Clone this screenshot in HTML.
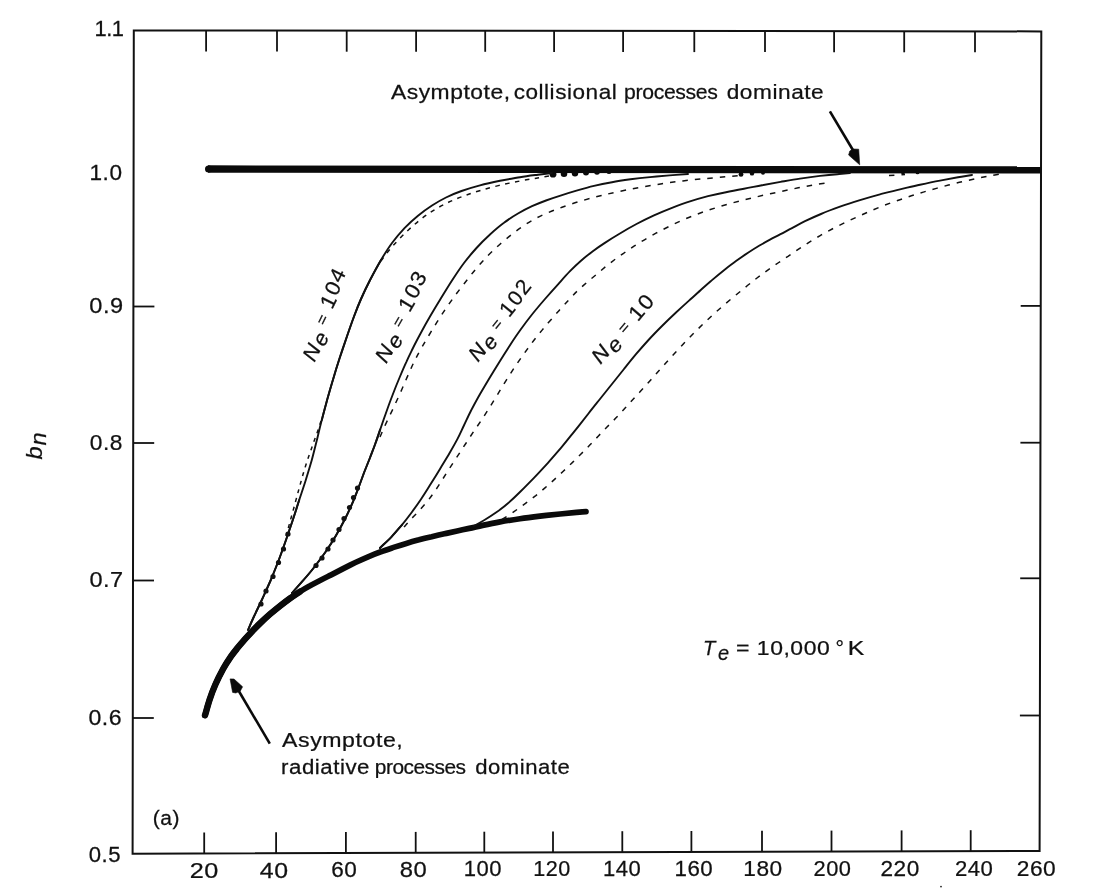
<!DOCTYPE html>
<html><head><meta charset="utf-8"><title>b_n vs n</title>
<style>
html,body{margin:0;padding:0;background:#fff;}
body{width:1101px;height:888px;overflow:hidden;}
svg{display:block;will-change:transform;}
text{font-family:"Liberation Sans",sans-serif;fill:#111;stroke:#111;stroke-width:0.25px;}
.ax{stroke:#111;stroke-width:2;fill:none;stroke-linecap:square;}
.tk{stroke:#111;stroke-width:1.8;fill:none;}
.sol{stroke:#111;stroke-width:1.9;fill:none;stroke-linecap:round;stroke-linejoin:round;}
.dsh{stroke:#111;stroke-width:1.5;fill:none;}
.thk{stroke:#0a0a0a;fill:none;stroke-linecap:round;stroke-linejoin:round;}
</style></head><body>
<svg width="1101" height="888" viewBox="0 0 1101 888">
<rect x="0" y="0" width="1101" height="888" fill="#fff"/>
<g id="frame">
<polygon class="ax" points="133.8,30.5 1041.3,31.4 1039.6,851.0 132.6,853.7"/>
<line class="tk" x1="206.1" y1="30.6" x2="206.1" y2="51.6"/>
<line class="tk" x1="277.0" y1="30.6" x2="277.0" y2="51.6"/>
<line class="tk" x1="346.7" y1="30.7" x2="346.7" y2="51.7"/>
<line class="tk" x1="416.1" y1="30.8" x2="416.1" y2="51.8"/>
<line class="tk" x1="485.2" y1="30.8" x2="485.2" y2="51.8"/>
<line class="tk" x1="554.1" y1="30.9" x2="554.1" y2="51.9"/>
<line class="tk" x1="623.1" y1="31.0" x2="623.1" y2="52.0"/>
<line class="tk" x1="694.3" y1="31.1" x2="694.3" y2="52.1"/>
<line class="tk" x1="765.0" y1="31.1" x2="765.0" y2="52.1"/>
<line class="tk" x1="834.1" y1="31.2" x2="834.1" y2="52.2"/>
<line class="tk" x1="904.2" y1="31.3" x2="904.2" y2="52.3"/>
<line class="tk" x1="975.0" y1="31.3" x2="975.0" y2="52.3"/>
<line class="tk" x1="204.2" y1="853.5" x2="204.2" y2="832.5"/>
<line class="tk" x1="276.1" y1="853.3" x2="276.1" y2="832.3"/>
<line class="tk" x1="345.9" y1="853.1" x2="345.9" y2="832.1"/>
<line class="tk" x1="415.7" y1="852.9" x2="415.7" y2="831.9"/>
<line class="tk" x1="484.3" y1="852.7" x2="484.3" y2="831.7"/>
<line class="tk" x1="553.0" y1="852.4" x2="553.0" y2="831.4"/>
<line class="tk" x1="622.3" y1="852.2" x2="622.3" y2="831.2"/>
<line class="tk" x1="691.4" y1="852.0" x2="691.4" y2="831.0"/>
<line class="tk" x1="762.0" y1="851.8" x2="762.0" y2="830.8"/>
<line class="tk" x1="831.5" y1="851.6" x2="831.5" y2="830.6"/>
<line class="tk" x1="901.6" y1="851.4" x2="901.6" y2="830.4"/>
<line class="tk" x1="970.7" y1="851.2" x2="970.7" y2="830.2"/>
<line class="tk" x1="133.4" y1="306.5" x2="154.4" y2="306.5"/>
<line class="tk" x1="133.2" y1="443.0" x2="154.2" y2="443.0"/>
<line class="tk" x1="133.0" y1="580.5" x2="154.0" y2="580.5"/>
<line class="tk" x1="132.8" y1="718.0" x2="153.8" y2="718.0"/>
<line class="tk" x1="1040.7" y1="305.9" x2="1020.7" y2="305.9"/>
<line class="tk" x1="1040.4" y1="442.7" x2="1020.4" y2="442.7"/>
<line class="tk" x1="1040.2" y1="578.3" x2="1020.2" y2="578.3"/>
<line class="tk" x1="1039.9" y1="715.5" x2="1019.9" y2="715.5"/>
</g>
<g id="labels" letter-spacing="0.5">
<text transform="translate(94.61,36.0) scale(0.9962,1)" font-size="22" letter-spacing="-0.6" xml:space="preserve">1.1</text>
<text transform="translate(89.54,179.5) scale(1.0276,1)" font-size="22" xml:space="preserve">1.0</text>
<text transform="translate(89.23,313.2) scale(1.0724,1)" font-size="22" xml:space="preserve">0.9</text>
<text transform="translate(89.77,449.5) scale(1.0333,1)" font-size="22" xml:space="preserve">0.8</text>
<text transform="translate(89.43,586.6) scale(1.0690,1)" font-size="22" xml:space="preserve">0.7</text>
<text transform="translate(88.45,725.0) scale(1.0500,1)" font-size="22" xml:space="preserve">0.6</text>
<text transform="translate(88.79,861.6) scale(1.0067,1)" font-size="22" xml:space="preserve">0.5</text>
<text transform="translate(189.75,878.0) scale(1.1478,1)" font-size="22" xml:space="preserve">20</text>
<text transform="translate(259.87,878.0) scale(1.1304,1)" font-size="22" xml:space="preserve">40</text>
<text transform="translate(331.27,877.3) scale(1.0261,1)" font-size="22" xml:space="preserve">60</text>
<text transform="translate(399.82,876.8) scale(1.0826,1)" font-size="22" xml:space="preserve">80</text>
<text transform="translate(463.79,876.4) scale(1.0029,1)" font-size="22" xml:space="preserve">100</text>
<text transform="translate(533.24,876.4) scale(0.9800,1)" font-size="22" xml:space="preserve">120</text>
<text transform="translate(603.09,876.4) scale(1.0029,1)" font-size="22" xml:space="preserve">140</text>
<text transform="translate(674.47,876.4) scale(1.0143,1)" font-size="22" xml:space="preserve">160</text>
<text transform="translate(743.34,876.4) scale(1.0314,1)" font-size="22" xml:space="preserve">180</text>
<text transform="translate(813.51,876.4) scale(0.9917,1)" font-size="22" xml:space="preserve">200</text>
<text transform="translate(880.47,876.4) scale(1.0278,1)" font-size="22" xml:space="preserve">220</text>
<text transform="translate(954.99,876.4) scale(1.0056,1)" font-size="22" xml:space="preserve">240</text>
<text transform="translate(1016.77,876.4) scale(1.0333,1)" font-size="22" xml:space="preserve">260</text>
<text transform="translate(282.10,747.2) scale(1.1019,1)" font-size="21" xml:space="preserve">Asymptote,</text>
<text transform="translate(152.83,824.6) scale(1.0739,1)" font-size="19.5" xml:space="preserve">(a)</text>
<text transform="translate(390.90,99.3) scale(1.0889,1)" font-size="21" xml:space="preserve">Asymptote,</text>
<text transform="translate(513.63,99.2) scale(1.0745,1)" font-size="21" xml:space="preserve">collisional</text>
<text transform="translate(624.09,99.0) scale(1.0099,1)" font-size="21" letter-spacing="-0.35" xml:space="preserve">processes</text>
<text transform="translate(726.72,98.8) scale(1.0795,1)" font-size="21" xml:space="preserve">dominate</text>
<text transform="translate(281.04,773.5) scale(1.0617,1)" font-size="21" xml:space="preserve">radiative</text>
<text transform="translate(374.80,773.5) scale(0.9956,1)" font-size="21" letter-spacing="-0.5" xml:space="preserve">processes</text>
<text transform="translate(475.15,773.5) scale(1.0523,1)" font-size="21" xml:space="preserve">dominate</text>
<text transform="translate(703.08,654.6) scale(0.9583,1)" font-size="21" xml:space="preserve"><tspan font-style="italic">T</tspan></text>
<text transform="translate(718.05,659.6) scale(0.9500,1)" font-size="21" xml:space="preserve"><tspan font-style="italic">e</tspan></text>
<text transform="translate(735.90,654.6) scale(1.1000,1)" font-size="21" xml:space="preserve">=</text>
<text transform="translate(756.81,654.6) scale(1.0938,1)" font-size="21" xml:space="preserve">10,000</text>
<text transform="translate(835.50,654.6) scale(1.0000,1)" font-size="21" xml:space="preserve">°</text>
<text transform="translate(847.64,654.6) scale(1.1818,1)" font-size="21" xml:space="preserve">K</text>
</g>
<g id="curves">
<line class="thk" style="stroke-linecap:butt" stroke-width="7.3" x1="208" y1="169.0" x2="1040.5" y2="169.9"/>
<circle cx="208.6" cy="169.0" r="3.6" fill="#0a0a0a"/>
<circle cx="553.0" cy="174.2" r="3.4" fill="#0a0a0a"/>
<circle cx="564.0" cy="173.8" r="3.3" fill="#0a0a0a"/>
<circle cx="575.0" cy="173.2" r="3.2" fill="#0a0a0a"/>
<circle cx="586.0" cy="172.6" r="3.0" fill="#0a0a0a"/>
<circle cx="597.0" cy="172.0" r="2.8" fill="#0a0a0a"/>
<circle cx="609.0" cy="171.6" r="2.5" fill="#0a0a0a"/>
<circle cx="741.0" cy="174.4" r="2.4" fill="#0a0a0a"/>
<circle cx="752.0" cy="173.4" r="2.2" fill="#0a0a0a"/>
<circle cx="763.0" cy="172.8" r="2.0" fill="#0a0a0a"/>
<circle cx="903.0" cy="172.6" r="2.0" fill="#0a0a0a"/>
<circle cx="917.5" cy="172.4" r="1.9" fill="#0a0a0a"/>
<path class="thk" stroke-width="5.7" d="M205.0 715.3C205.8 712.8 207.8 705.2 209.5 700.0C211.2 694.8 213.2 689.4 215.5 684.2C217.8 679.0 220.7 673.4 223.2 668.8C225.8 664.1 228.6 659.9 231.0 656.4C233.4 653.0 235.3 650.7 237.4 648.1C239.5 645.5 241.2 643.5 243.5 640.9C245.8 638.3 248.1 635.6 250.9 632.7C253.6 629.8 256.8 626.5 260.0 623.4C263.2 620.3 266.7 617.1 270.0 614.2C273.3 611.4 276.7 608.6 280.0 606.0C283.3 603.4 286.7 600.8 290.0 598.4C293.3 596.0 296.7 593.7 300.0 591.6C303.3 589.5 306.7 587.6 310.0 585.8C313.3 583.9 316.6 582.3 320.0 580.5C323.4 578.7 326.9 577.0 330.7 575.1C334.5 573.1 338.6 571.0 342.7 568.9C346.8 566.8 351.2 564.6 355.4 562.5C359.6 560.5 363.9 558.6 368.1 556.8C372.4 555.0 376.6 553.3 380.9 551.8C385.1 550.2 389.4 548.8 393.6 547.4C397.8 546.0 402.1 544.6 406.3 543.4C410.5 542.1 414.8 540.9 419.0 539.8C423.2 538.6 427.5 537.6 431.7 536.7C435.9 535.7 440.2 534.7 444.4 533.8C448.7 532.9 453.0 531.9 457.2 531.0C461.3 530.1 465.0 529.3 469.2 528.4C473.5 527.5 477.4 526.5 482.5 525.4C487.6 524.3 493.7 523.0 500.0 521.9C506.3 520.8 513.3 519.7 520.0 518.7C526.7 517.7 533.3 516.9 540.0 516.1C546.7 515.4 553.9 514.6 560.0 514.0C566.1 513.4 572.2 512.8 576.5 512.4C580.8 512.0 584.4 511.7 586.0 511.6"/>
<path class="thk" stroke-width="6.4" d="M205.0 715.3C205.8 712.8 207.8 705.2 209.5 700.0C211.2 694.8 213.2 689.4 215.5 684.2C217.8 679.0 220.7 673.4 223.2 668.8C225.8 664.1 228.6 659.9 231.0 656.4C233.4 653.0 235.3 650.7 237.4 648.1C239.5 645.5 241.2 643.5 243.5 640.9C245.8 638.3 248.1 635.6 250.9 632.7C253.6 629.8 256.8 626.5 260.0 623.4C263.2 620.3 266.7 617.1 270.0 614.2C273.3 611.4 276.7 608.6 280.0 606.0C283.3 603.4 286.7 600.8 290.0 598.4C293.3 596.0 298.3 592.8 300.0 591.6"/>
<path id="s4" class="sol" d="M248.0 630.0C248.9 627.9 251.2 622.5 253.5 617.5C255.8 612.5 258.9 606.2 261.8 600.0C264.6 593.8 267.9 586.7 270.8 580.0C273.6 573.3 276.2 566.7 278.8 560.0C281.3 553.3 283.7 546.7 286.0 540.0C288.3 533.3 290.5 526.7 292.8 520.0C295.0 513.3 297.1 506.7 299.2 500.0C301.4 493.3 303.7 486.7 305.8 480.0C307.8 473.3 309.9 466.7 311.8 460.0C313.6 453.3 315.2 446.7 316.9 440.0C318.5 433.3 320.0 426.7 321.8 420.0C323.5 413.3 325.3 406.7 327.1 400.0C329.0 393.3 330.8 386.9 332.9 380.0C334.9 373.1 337.1 365.8 339.5 358.5C341.9 351.2 344.7 343.0 347.1 336.0C349.5 329.0 351.7 322.7 354.0 316.5C356.3 310.3 358.3 305.1 361.0 299.0C363.7 292.9 366.9 286.2 370.2 279.8C373.6 273.2 377.3 266.2 381.0 260.0C384.7 253.8 388.3 248.0 392.2 242.8C396.2 237.5 400.2 232.8 404.5 228.2C408.8 223.8 413.4 219.5 418.0 215.8C422.6 212.0 427.3 208.5 432.0 205.5C436.7 202.5 441.1 199.9 446.0 197.5C450.9 195.1 455.8 193.0 461.5 191.0C467.2 189.0 473.6 187.1 480.0 185.4C486.4 183.7 493.3 182.2 500.0 180.8C506.7 179.4 513.7 178.3 520.0 177.2C526.3 176.2 532.7 175.4 538.0 174.7C543.3 174.0 549.7 173.3 552.0 173.0"/>
<path id="s3" class="sol" d="M292.0 593.0C293.8 591.0 298.8 585.5 302.5 581.2C306.2 577.0 310.2 572.4 314.0 567.5C317.8 562.6 321.8 557.3 325.5 552.0C329.2 546.7 332.7 541.2 336.0 535.5C339.3 529.8 342.6 523.7 345.5 518.0C348.4 512.3 350.9 506.7 353.1 501.5C355.3 496.3 356.9 491.8 358.8 487.0C360.6 482.2 362.3 477.3 364.1 472.5C366.0 467.7 368.0 462.8 369.9 458.0C371.7 453.2 373.5 448.8 375.2 444.0C377.0 439.2 378.5 434.6 380.2 429.5C382.0 424.4 383.7 419.2 385.8 413.5C387.8 407.8 390.0 401.6 392.4 395.5C394.7 389.4 397.4 382.6 399.8 377.0C402.1 371.4 404.2 366.4 406.4 361.8C408.5 357.1 410.2 353.7 412.5 349.0C414.8 344.3 417.5 339.2 420.4 333.8C423.3 328.3 426.6 322.3 430.0 316.5C433.4 310.7 436.8 305.0 440.5 299.0C444.2 293.0 448.1 286.5 452.0 280.5C455.9 274.5 459.9 268.4 464.0 263.0C468.1 257.6 472.2 252.8 476.5 248.0C480.8 243.2 485.4 238.7 490.0 234.5C494.6 230.3 499.3 226.2 504.0 222.8C508.7 219.2 513.3 216.2 518.0 213.5C522.7 210.8 527.3 208.4 532.0 206.2C536.7 204.1 541.2 202.3 546.0 200.5C550.8 198.7 555.4 197.2 560.5 195.6C565.6 193.9 570.9 192.2 576.5 190.6C582.1 189.0 588.1 187.3 594.0 185.9C599.9 184.5 605.9 183.3 612.0 182.2C618.1 181.0 624.2 180.1 630.5 179.2C636.8 178.4 643.5 177.7 650.0 177.1C656.5 176.5 663.2 176.0 669.5 175.4C675.8 174.9 684.9 174.2 688.0 174.0"/>
<path id="s2" class="sol" d="M380.0 548.0C381.9 546.1 387.8 540.6 391.5 536.8C395.2 532.9 398.6 528.8 402.0 524.8C405.4 520.7 408.6 516.5 411.8 512.2C414.9 508.0 417.9 503.8 421.0 499.2C424.1 494.7 427.1 489.8 430.2 484.8C433.4 479.7 436.8 474.2 440.0 468.9C443.2 463.6 446.7 458.0 449.6 453.0C452.5 448.0 455.1 443.5 457.5 438.9C459.9 434.3 461.6 430.3 463.9 425.5C466.2 420.7 468.5 415.5 471.2 410.2C474.0 405.0 477.1 399.2 480.2 393.8C483.4 388.2 486.7 382.7 490.0 377.2C493.3 371.8 496.7 366.3 500.0 361.0C503.3 355.7 506.6 350.5 510.0 345.2C513.4 340.0 516.8 334.9 520.5 329.8C524.2 324.6 527.9 319.6 532.0 314.5C536.1 309.4 540.6 304.1 545.0 299.0C549.4 293.9 554.3 288.4 558.5 283.8C562.7 279.1 566.2 275.1 570.0 271.2C573.8 267.4 577.2 264.1 581.0 260.8C584.8 257.4 588.6 254.3 592.5 251.4C596.4 248.5 600.0 246.0 604.5 243.1C609.0 240.1 614.2 236.8 619.5 233.7C624.8 230.5 630.8 227.0 636.5 224.0C642.2 221.0 648.1 218.1 654.0 215.4C659.9 212.7 666.0 210.1 672.0 207.8C678.0 205.5 684.0 203.3 690.0 201.4C696.0 199.5 702.0 197.8 708.0 196.2C714.0 194.7 720.0 193.4 726.0 192.2C732.0 190.9 738.0 189.8 744.0 188.7C750.0 187.5 755.9 186.5 762.0 185.3C768.1 184.2 774.2 183.1 780.5 181.9C786.8 180.8 793.4 179.6 800.0 178.6C806.6 177.6 813.8 176.6 820.0 175.9C826.2 175.2 832.5 174.6 837.5 174.2C842.5 173.7 847.9 173.2 850.0 173.0"/>
<path id="s1" class="sol" d="M474.0 526.0C475.8 525.0 480.8 522.2 484.5 520.0C488.2 517.8 492.1 515.4 496.0 512.6C499.9 509.8 503.9 506.8 508.0 503.2C512.1 499.7 516.2 495.8 520.5 491.5C524.8 487.2 529.4 482.5 534.0 477.8C538.6 473.0 543.5 467.7 548.0 462.8C552.5 457.8 557.0 452.5 560.8 448.1C564.5 443.7 567.5 440.0 570.5 436.2C573.5 432.5 575.8 429.7 578.8 425.9C581.8 422.1 585.0 418.0 588.5 413.5C592.0 409.0 596.1 403.9 600.0 399.0C603.9 394.1 608.0 389.0 612.0 384.0C616.0 379.0 620.0 374.0 624.0 369.0C628.0 364.0 631.9 359.1 636.0 354.2C640.1 349.4 644.2 344.7 648.5 340.0C652.8 335.3 657.4 330.6 662.0 326.0C666.6 321.4 671.5 316.7 676.0 312.5C680.5 308.3 684.9 304.3 689.0 300.6C693.1 296.9 696.7 293.7 700.5 290.2C704.3 286.8 708.1 283.5 712.0 280.1C715.9 276.8 720.0 273.4 724.0 270.2C728.0 267.1 732.0 264.0 736.0 261.1C740.0 258.2 744.1 255.3 748.0 252.8C751.9 250.2 755.8 247.7 759.5 245.5C763.2 243.4 766.5 241.6 770.0 239.7C773.5 237.8 776.8 236.2 780.5 234.2C784.2 232.3 787.9 230.2 792.0 228.1C796.1 225.9 800.2 223.6 805.0 221.2C809.8 218.9 815.2 216.4 821.0 214.0C826.8 211.5 833.5 209.0 840.0 206.7C846.5 204.4 853.3 202.2 860.0 200.1C866.7 198.0 873.3 196.1 880.0 194.3C886.7 192.6 893.3 190.9 900.0 189.3C906.7 187.8 913.3 186.2 920.0 184.8C926.7 183.3 933.7 181.8 940.0 180.6C946.3 179.4 952.7 178.3 958.0 177.3C963.3 176.4 969.7 175.4 972.0 175.0"/>
<path class="sol" stroke-width="3.2" d="M321.8 420.0C322.6 416.7 325.3 406.7 327.1 400.0C329.0 393.3 330.8 386.9 332.9 380.0C334.9 373.1 337.1 365.8 339.5 358.5C341.9 351.2 344.7 343.0 347.1 336.0C349.5 329.0 351.7 322.7 354.0 316.5C356.3 310.3 358.3 305.1 361.0 299.0C363.7 292.9 366.9 286.2 370.2 279.8C373.6 273.2 379.2 263.3 381.0 260.0"/>
<path class="sol" stroke-width="3" d="M353.1 501.5C354.1 499.1 356.9 491.8 358.8 487.0C360.6 482.2 362.3 477.3 364.1 472.5C366.0 467.7 368.0 462.8 369.9 458.0C371.7 453.2 373.5 448.8 375.2 444.0C377.0 439.2 379.4 431.9 380.2 429.5"/>
<path class="sol" stroke-width="2.7" d="M248.0 630.0C248.9 627.9 251.2 622.5 253.5 617.5C255.8 612.5 258.9 606.2 261.8 600.0C264.6 593.8 267.9 586.7 270.8 580.0C273.6 573.3 276.2 566.7 278.8 560.0C281.3 553.3 283.7 546.7 286.0 540.0C288.3 533.3 290.5 526.7 292.8 520.0C295.0 513.3 298.2 503.3 299.2 500.0"/>
<path class="sol" stroke-width="2.8" d="M292.0 593.0C293.8 591.0 298.8 585.5 302.5 581.2C306.2 577.0 310.2 572.4 314.0 567.5C317.8 562.6 321.8 557.3 325.5 552.0C329.2 546.7 332.7 541.2 336.0 535.5C339.3 529.8 342.6 523.7 345.5 518.0C348.4 512.3 351.9 504.2 353.1 501.5"/>
<path class="sol" stroke-width="2.6" d="M380.0 548.0C381.9 546.1 387.8 540.6 391.5 536.8C395.2 532.9 400.2 526.8 402.0 524.8"/>
<path id="d4u" class="dsh" stroke-dasharray="4.5 5.5" d="M381.0 261.0C381.6 260.1 382.7 258.3 384.8 255.8C386.8 253.2 389.7 249.4 393.2 245.5C396.8 241.6 401.5 236.5 406.0 232.2C410.5 228.0 415.3 223.6 420.0 219.9C424.7 216.2 429.2 213.0 434.0 210.1C438.8 207.1 443.5 204.7 448.5 202.3C453.5 199.9 458.6 197.9 464.0 195.9C469.4 193.9 475.0 192.1 481.0 190.3C487.0 188.6 493.5 186.8 500.0 185.2C506.5 183.7 513.5 182.2 520.0 181.0C526.5 179.7 533.0 178.7 539.0 177.7C545.0 176.7 553.2 175.4 556.0 175.0"/>
<path id="d4l" class="dsh" stroke-dasharray="4 5" d="M321.0 421.0C320.5 422.5 319.3 426.5 318.0 430.2C316.7 434.0 314.9 438.8 313.2 443.5C311.6 448.2 309.7 453.5 308.0 458.5C306.3 463.5 304.7 468.8 303.2 473.8C301.8 478.7 300.6 483.2 299.2 488.0C297.9 492.8 296.7 497.4 295.2 502.8C293.8 508.1 292.0 514.5 290.5 520.0C289.0 525.5 286.8 533.3 286.0 536.0"/>
<path id="d3" class="dsh" stroke-dasharray="5.5 7" d="M380.0 437.0C380.5 435.8 382.0 432.3 383.2 429.5C384.5 426.7 385.9 423.6 387.5 420.2C389.1 416.9 391.0 413.0 392.8 409.2C394.5 405.5 396.2 401.8 398.0 398.0C399.8 394.2 401.5 390.3 403.2 386.2C405.0 382.2 406.8 377.8 408.8 373.5C410.7 369.2 412.5 365.0 414.8 360.5C417.0 356.0 419.6 351.3 422.5 346.2C425.4 341.2 428.8 335.5 432.0 330.2C435.2 325.0 438.5 319.6 441.9 314.5C445.2 309.4 448.6 304.6 452.2 299.5C455.9 294.4 459.9 289.1 463.9 284.0C467.8 278.9 472.0 273.5 476.0 268.8C480.0 264.0 484.0 259.6 488.0 255.5C492.0 251.4 496.0 247.8 500.0 244.2C504.0 240.7 508.0 237.4 512.0 234.2C516.0 231.1 520.0 228.2 524.0 225.5C528.0 222.8 532.0 220.5 536.0 218.3C540.0 216.2 543.7 214.5 548.0 212.7C552.3 210.9 556.7 209.2 562.0 207.3C567.3 205.5 573.4 203.3 580.0 201.3C586.6 199.4 593.8 197.3 601.5 195.4C609.2 193.6 617.5 191.8 626.0 190.1C634.5 188.4 643.7 186.7 652.5 185.2C661.3 183.8 670.3 182.5 679.0 181.4C687.7 180.3 696.6 179.4 704.5 178.7C712.4 177.9 720.2 177.2 726.5 176.7C732.8 176.2 739.4 175.6 742.0 175.4"/>
<path id="d2a" class="dsh" stroke-dasharray="5.5 7" d="M404.0 527.0C405.1 525.8 408.2 522.2 410.8 519.5C413.2 516.8 416.2 513.9 419.0 510.8C421.8 507.6 425.0 504.2 427.8 500.8C430.5 497.3 433.0 493.8 435.5 490.2C438.0 486.7 440.1 483.1 442.5 479.4C444.9 475.6 447.4 471.6 450.0 467.6C452.6 463.6 455.4 459.4 458.0 455.4C460.6 451.4 463.2 447.4 465.8 443.5C468.3 439.6 470.7 436.0 473.2 432.2C475.8 428.5 478.3 424.8 481.0 420.8C483.7 416.7 486.5 412.4 489.2 408.0C492.0 403.6 494.9 398.8 497.8 394.1C500.6 389.4 503.5 384.6 506.5 379.8C509.5 374.9 512.8 370.0 516.0 365.2C519.2 360.5 522.6 355.7 526.0 351.0C529.4 346.3 532.8 341.6 536.5 337.0C540.2 332.4 544.2 327.6 548.0 323.1C551.8 318.7 555.8 314.2 559.2 310.4C562.7 306.5 565.8 303.1 568.8 299.9C571.8 296.7 574.3 293.9 577.2 291.1C580.2 288.3 583.2 285.7 586.2 283.0C589.3 280.3 592.6 277.6 595.8 275.0C598.9 272.4 601.9 269.8 605.0 267.2C608.1 264.8 611.1 262.4 614.2 260.0C617.4 257.6 620.7 255.3 624.0 253.0C627.3 250.7 630.6 248.5 634.0 246.2C637.4 244.0 640.8 241.9 644.5 239.8C648.2 237.6 652.1 235.4 656.0 233.2C659.9 231.1 664.0 229.0 668.0 227.0C672.0 225.0 676.0 223.1 680.0 221.2C684.0 219.4 688.0 217.7 692.0 216.2C696.0 214.6 700.0 213.1 704.0 211.7C708.0 210.3 712.0 209.0 716.0 207.7C720.0 206.4 724.0 205.3 728.0 204.2C732.0 203.0 736.0 202.0 740.0 201.0C744.0 200.0 747.9 199.0 752.0 198.0C756.1 197.0 760.2 196.0 764.5 195.0C768.8 194.0 773.2 193.1 777.5 192.2C781.8 191.2 785.9 190.4 790.0 189.6C794.1 188.7 798.0 187.9 802.0 187.1C806.0 186.3 810.0 185.6 814.0 184.9C818.0 184.2 824.0 183.3 826.0 183.0"/>
<path id="d2b" class="dsh" stroke-dasharray="5.5 7" d="M889.0 175.6C891.7 175.4 902.3 174.7 905.0 174.5"/>
<path id="d1" class="dsh" stroke-dasharray="5.5 7" d="M502.0 519.5C504.0 518.2 510.1 514.3 514.0 511.6C517.9 508.9 521.9 506.1 525.5 503.4C529.1 500.7 532.5 498.1 535.8 495.6C539.0 493.0 542.0 490.5 545.0 487.9C548.0 485.3 551.0 482.6 554.0 479.9C557.0 477.1 560.0 474.3 563.0 471.5C566.0 468.7 569.0 465.8 572.0 462.9C575.0 460.0 578.0 457.0 581.0 454.0C584.0 451.0 586.9 448.1 589.8 445.1C592.6 442.2 595.4 439.2 598.2 436.2C601.1 433.2 604.1 430.1 607.0 427.1C609.9 424.1 613.0 421.0 615.8 418.1C618.5 415.2 621.1 412.5 623.8 409.6C626.4 406.8 628.8 404.0 631.5 401.1C634.2 398.2 637.0 395.1 639.8 392.1C642.5 389.1 645.3 386.0 648.0 383.0C650.7 380.0 653.2 377.1 656.0 374.0C658.8 370.9 661.5 367.8 664.5 364.5C667.5 361.2 670.7 357.6 674.0 354.0C677.3 350.4 680.8 346.7 684.2 343.0C687.8 339.3 691.3 335.7 695.0 332.0C698.7 328.3 702.4 324.6 706.2 321.0C710.1 317.4 713.9 313.9 718.0 310.2C722.1 306.6 726.5 302.9 731.0 299.1C735.5 295.4 740.4 291.3 744.8 287.8C749.1 284.2 753.2 281.0 757.0 278.0C760.8 275.1 764.2 272.6 767.8 270.1C771.2 267.6 774.6 265.3 778.0 263.0C781.4 260.7 784.6 258.6 788.0 256.4C791.4 254.1 794.8 251.7 798.2 249.4C801.8 247.0 805.3 244.6 809.0 242.3C812.7 240.0 816.4 237.8 820.2 235.6C824.1 233.3 828.1 231.2 832.2 229.0C836.4 226.8 840.8 224.7 845.0 222.6C849.2 220.5 853.6 218.6 857.8 216.7C861.9 214.8 866.0 212.9 870.0 211.2C874.0 209.5 878.0 207.8 882.0 206.2C886.0 204.7 890.0 203.2 894.0 201.8C898.0 200.3 901.9 199.0 905.8 197.7C909.6 196.4 913.2 195.2 917.0 194.1C920.8 192.9 924.5 191.7 928.5 190.6C932.5 189.4 936.8 188.2 941.0 187.1C945.2 185.9 949.7 184.8 954.0 183.7C958.3 182.6 962.5 181.6 966.8 180.7C971.0 179.8 975.1 178.9 979.2 178.0C983.4 177.1 987.6 176.3 991.8 175.6C995.9 174.8 1002.0 173.8 1004.0 173.5"/>
<circle cx="288.0" cy="534.0" r="2.6" fill="#111"/>
<circle cx="283.5" cy="549.0" r="2.6" fill="#111"/>
<circle cx="278.5" cy="562.5" r="2.6" fill="#111"/>
<circle cx="273.0" cy="576.5" r="2.6" fill="#111"/>
<circle cx="266.0" cy="591.0" r="2.6" fill="#111"/>
<circle cx="261.0" cy="604.0" r="2.6" fill="#111"/>
<circle cx="357.5" cy="488.0" r="2.6" fill="#111"/>
<circle cx="353.5" cy="497.5" r="2.6" fill="#111"/>
<circle cx="349.5" cy="507.5" r="2.6" fill="#111"/>
<circle cx="344.0" cy="518.5" r="2.6" fill="#111"/>
<circle cx="339.0" cy="529.5" r="2.6" fill="#111"/>
<circle cx="333.0" cy="540.0" r="2.6" fill="#111"/>
<circle cx="328.0" cy="549.0" r="2.6" fill="#111"/>
<circle cx="322.0" cy="558.0" r="2.6" fill="#111"/>
<circle cx="316.0" cy="565.5" r="2.6" fill="#111"/>
</g>
<g id="arrows" fill="#0a0a0a" stroke="#0a0a0a">
<line x1="829.9" y1="111.3" x2="853.5" y2="151" stroke-width="2.6"/>
<polygon points="853,149 858.7,149.2 859.7,164.8 848.6,155 849.8,151" stroke-width="0.6"/>
<line x1="269.8" y1="743.6" x2="238.5" y2="690.5" stroke-width="2.6"/>
<polygon points="230.1,678.9 234,679 242.6,686.8 240.3,691 235.8,693 232.6,692.4" stroke-width="0.6"/>
</g>
<g id="nlabels" font-size="21" letter-spacing="1.6">
<text id="n4" transform="translate(314.5,362.8) rotate(-71.5) scale(1.050,1)" rotate="8" xml:space="preserve"><tspan font-style="italic">N</tspan><tspan font-style="italic" dy="4.5">e</tspan><tspan font-size="15.5" dy="-6.4" dx="6">=</tspan><tspan dy="1.9" dx="6">104</tspan></text>
<text id="n3" transform="translate(386.3,364.3) rotate(-65.5) scale(1.065,1)" rotate="6" xml:space="preserve"><tspan font-style="italic">N</tspan><tspan font-style="italic" dy="4.5">e</tspan><tspan font-size="15.5" dy="-6.4" dx="6">=</tspan><tspan dy="1.9" dx="6">103</tspan></text>
<text id="n2" transform="translate(478.0,362.8) rotate(-55) scale(1.030,1)" rotate="4" xml:space="preserve"><tspan font-style="italic">N</tspan><tspan font-style="italic" dy="4.5">e</tspan><tspan font-size="15.5" dy="-6.4" dx="6">=</tspan><tspan dy="1.9" dx="6">102</tspan></text>
<text id="n1" transform="translate(600.5,365.0) rotate(-49) scale(1.075,1)" rotate="0" xml:space="preserve"><tspan font-style="italic">N</tspan><tspan font-style="italic" dy="4.5">e</tspan><tspan font-size="15.5" dy="-6.4" dx="6">=</tspan><tspan dy="1.9" dx="6">10</tspan></text>
</g>
<text id="bn" transform="translate(41.6,459.6) rotate(-90) scale(1.1,1)" font-size="21.5" font-style="italic" letter-spacing="0.8">b<tspan dy="4.6">n</tspan></text>
<circle cx="941" cy="886.6" r="0.9" fill="#222"/>
</svg>
</body></html>
